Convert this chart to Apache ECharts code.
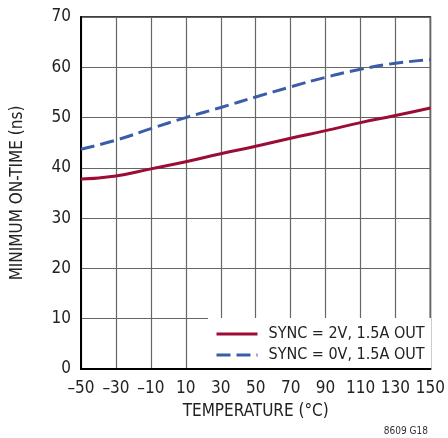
<!DOCTYPE html>
<html>
<head>
<meta charset="utf-8">
<script src="https://cdn.jsdelivr.net/npm/echarts@6/dist/echarts.min.js"></script>
<style>
  html, body { margin: 0; padding: 0; background: #fff; }
  #chart { width: 448px; height: 438px; }
</style>
</head>
<body>
<div id="chart"></div>
<script>
// Temperature sweep (°C)
const temperatures = [-50, -30, -10, 10, 30, 50, 70, 90, 110, 130, 150];
// Minimum on-time (ns), SYNC = 2V, 1.5A OUT
const sync2V = [37.8, 38.4, 39.8, 41.2, 42.8, 44.3, 45.9, 47.4, 49.0, 50.4, 51.9];
// Minimum on-time (ns), SYNC = 0V, 1.5A OUT
const sync0V = [43.7, 45.5, 47.8, 50.0, 52.0, 54.1, 56.1, 58.0, 59.6, 60.8, 61.5];

const seriesNames = ['SYNC = 2V, 1.5A OUT', 'SYNC = 0V, 1.5A OUT'];
const xTicks = { min: -50, max: 150, step: 20 };
const yTicks = { min: 0, max: 70, step: 10 };

const FONT = '"DejaVu Sans Condensed", "Liberation Sans Narrow", "Liberation Sans", Arial, sans-serif';
const RED = '#9b0d36';
const BLUE = '#3b5ca8';

const pairs = (xs, ys) => xs.map((x, i) => [x, ys[i]]);

const chart = echarts.init(document.getElementById('chart'), null, { renderer: 'canvas' });

chart.setOption({
  animation: false,
  backgroundColor: '#fff',
  textStyle: { fontFamily: FONT },
  grid: { left: 81, top: 17, right: 16, bottom: 69, show: true, borderColor: '#000', borderWidth: 1.5, z: 0 },
  xAxis: {
    type: 'value',
    min: xTicks.min, max: xTicks.max, interval: xTicks.step,
    name: 'TEMPERATURE (°C)',
    nameLocation: 'middle',
    nameGap: 34,
    nameTextStyle: { fontFamily: FONT, fontSize: 17, color: '#222' },
    axisLine: { show: true, onZero: false, lineStyle: { color: '#000', width: 2 } },
    axisTick: { show: false },
    axisLabel: {
      margin: 11, fontFamily: FONT, fontSize: 17, color: '#222',
      formatter: v => String(v).replace('-', '\u2013')
    },
    splitLine: { show: true, lineStyle: { color: '#666', width: 1.2 } }
  },
  yAxis: {
    type: 'value',
    min: yTicks.min, max: yTicks.max, interval: yTicks.step,
    name: 'MINIMUM ON-TIME (ns)',
    nameLocation: 'middle',
    nameGap: 55,
    nameTextStyle: { fontFamily: FONT, fontSize: 17, color: '#222' },
    axisLine: { show: true, onZero: false, lineStyle: { color: '#000', width: 2 } },
    axisTick: { show: false },
    axisLabel: { margin: 10, fontFamily: FONT, fontSize: 17, color: '#222' },
    splitLine: { show: true, lineStyle: { color: '#666', width: 1.2 } }
  },
  graphic: [
    {
      // white panel behind the legend, inside the plot frame
      type: 'rect', z: 1,
      shape: { x: 208, y: 318, width: 223, height: 50 },
      style: { fill: '#fff' }
    },
    {
      type: 'text', right: 20, bottom: 2, z: 5,
      style: { text: '8609 G18', font: '10px ' + FONT, fill: '#333' }
    }
  ],
  legend: {
    orient: 'vertical',
    left: 215, top: 326,
    padding: 0,
    itemGap: 5,
    itemWidth: 41, itemHeight: 17,
    itemStyle: { opacity: 0 },
    lineStyle: { width: 3 },
    textStyle: { fontFamily: FONT, fontSize: 16, color: '#222', padding: [0, 0, 0, 6] },
    data: seriesNames,
    z: 6
  },
  series: [
    {
      name: seriesNames[0], type: 'line', smooth: true, symbol: 'none',
      data: pairs(temperatures, sync2V),
      lineStyle: { color: RED, width: 3 }, itemStyle: { color: RED }, z: 3
    },
    {
      name: seriesNames[1], type: 'line', smooth: true, symbol: 'none',
      data: pairs(temperatures, sync0V),
      lineStyle: { color: BLUE, width: 3, type: [14, 6] }, itemStyle: { color: BLUE }, z: 3
    }
  ]
});
</script>
</body>
</html>
